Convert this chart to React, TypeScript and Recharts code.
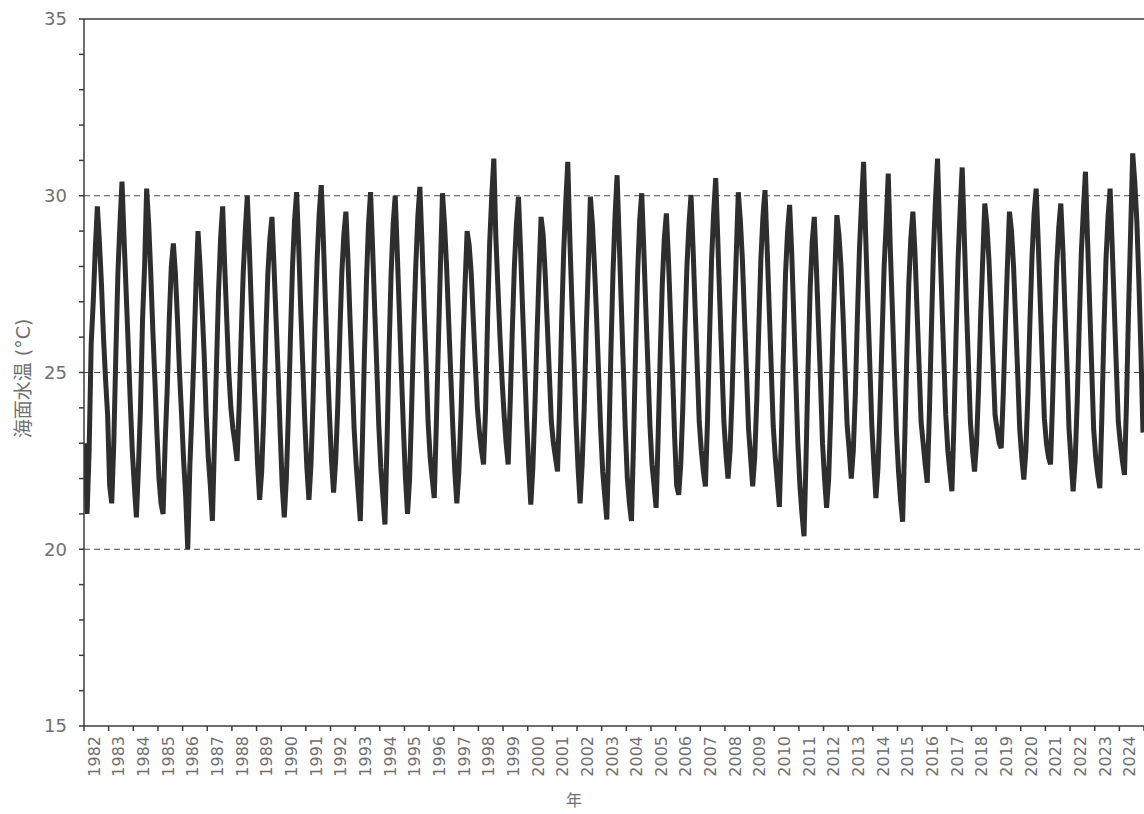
import React from 'react';
import { LineChart, Line, XAxis, YAxis, ReferenceLine } from 'recharts';

// Monthly sea surface temperature (°C), Jan..Dec
const sst1980s: number[][] = [
  [23.0, 21.0, 22.8, 25.8, 27.0, 28.5, 29.7, 28.7, 27.5, 26.0, 24.8, 23.8], // 1982
  [21.8, 21.3, 23.0, 25.5, 27.8, 29.2, 30.4, 28.8, 27.3, 25.8, 24.2, 22.8], // 1983
  [21.8, 20.9, 22.3, 24.0, 26.5, 28.0, 30.2, 29.2, 27.8, 26.2, 24.8, 23.3], // 1984
  [22.0, 21.3, 21.0, 23.0, 24.5, 26.5, 28.0, 28.65, 27.8, 26.5, 25.0, 23.8], // 1985
  [22.5, 21.5, 20.0, 22.3, 23.8, 25.5, 27.5, 29.0, 28.0, 26.8, 25.5, 23.8], // 1986
  [22.6, 21.8, 20.8, 23.0, 25.2, 27.3, 28.8, 29.7, 28.0, 26.5, 25.0, 24.0], // 1987
  [23.4, 23.0, 22.5, 24.0, 26.0, 27.8, 29.0, 30.0, 28.5, 26.8, 25.2, 23.8], // 1988
  [22.4, 21.4, 22.2, 23.8, 26.0, 27.8, 28.8, 29.4, 28.0, 26.5, 25.0, 23.3], // 1989
];
const sst1990s: number[][] = [
  [21.8, 20.9, 22.0, 23.8, 26.0, 28.0, 29.3, 30.1, 28.6, 26.8, 25.2, 23.6], // 1990
  [22.3, 21.4, 22.4, 24.2, 26.4, 28.2, 29.5, 30.3, 28.8, 27.0, 25.3, 23.8], // 1991
  [22.5, 21.6, 22.5, 24.0, 26.0, 27.8, 28.9, 29.55, 28.2, 26.5, 25.0, 23.4], // 1992
  [22.4, 21.6, 20.8, 23.0, 25.5, 27.6, 29.2, 30.1, 28.5, 26.8, 25.2, 23.5], // 1993
  [22.3, 21.5, 20.7, 23.0, 25.6, 27.8, 29.2, 30.0, 28.4, 26.7, 25.0, 23.4], // 1994
  [22.0, 21.0, 22.0, 24.0, 26.2, 28.0, 29.4, 30.25, 28.7, 26.9, 25.3, 23.6], // 1995
  [22.6, 22.0, 21.45, 23.5, 25.8, 28.0, 30.07, 29.2, 28.0, 26.5, 25.0, 23.5], // 1996
  [22.2, 21.3, 22.2, 23.8, 25.8, 27.5, 29.0, 28.6, 27.8, 26.5, 25.2, 24.0], // 1997
  [23.3, 22.8, 22.4, 24.0, 26.6, 28.7, 30.0, 31.05, 28.8, 27.4, 26.0, 24.8], // 1998
  [23.8, 23.0, 22.4, 24.2, 26.2, 28.0, 29.2, 29.97, 28.5, 26.8, 25.2, 23.6], // 1999
];
const sst2000s: number[][] = [
  [22.3, 21.26, 22.3, 24.0, 26.0, 27.8, 29.4, 28.9, 27.8, 26.4, 25.0, 23.6], // 2000
  [23.0, 22.6, 22.2, 24.0, 26.4, 28.4, 29.8, 30.96, 28.8, 27.0, 25.4, 23.6], // 2001
  [22.3, 21.3, 22.4, 24.0, 26.2, 28.0, 29.97, 29.2, 28.0, 26.6, 25.0, 23.4], // 2002
  [22.2, 21.5, 20.84, 23.0, 25.6, 27.8, 29.4, 30.58, 28.8, 27.0, 25.2, 23.4], // 2003
  [22.0, 21.3, 20.8, 23.0, 25.6, 27.8, 29.3, 30.07, 28.5, 26.8, 25.2, 23.5], // 2004
  [22.4, 21.8, 21.17, 23.2, 25.5, 27.5, 28.8, 29.5, 28.2, 26.6, 25.0, 23.2], // 2005
  [21.8, 21.54, 22.4, 24.0, 26.2, 28.0, 29.2, 30.02, 28.5, 26.8, 25.2, 23.6], // 2006
  [22.8, 22.2, 21.78, 23.6, 26.0, 28.2, 29.5, 30.5, 28.8, 27.0, 25.3, 23.6], // 2007
  [22.7, 22.0, 22.8, 24.4, 26.5, 28.3, 30.1, 29.3, 28.2, 26.6, 25.0, 23.4], // 2008
  [22.6, 21.78, 22.6, 24.2, 26.3, 28.2, 29.4, 30.16, 28.6, 26.9, 25.2, 23.5], // 2009
];
const sst2010s: number[][] = [
  [22.6, 21.9, 21.2, 23.2, 25.6, 27.8, 29.0, 29.74, 28.4, 26.6, 24.8, 23.0], // 2010
  [21.8, 21.0, 20.37, 22.6, 25.2, 27.4, 28.7, 29.4, 28.0, 26.4, 24.8, 23.0], // 2011
  [22.0, 21.17, 22.0, 23.8, 26.0, 27.8, 29.45, 28.9, 28.0, 26.6, 25.0, 23.5], // 2012
  [22.8, 22.0, 22.8, 24.4, 26.6, 28.5, 29.8, 30.96, 28.9, 27.0, 25.3, 23.5], // 2013
  [22.4, 21.45, 22.3, 24.0, 26.0, 28.0, 29.2, 30.63, 28.5, 26.8, 25.0, 23.3], // 2014
  [22.2, 21.4, 20.78, 23.0, 25.4, 27.5, 28.8, 29.55, 28.4, 26.8, 25.2, 23.6], // 2015
  [23.0, 22.4, 21.88, 23.8, 26.2, 28.4, 29.9, 31.05, 29.0, 27.2, 25.5, 23.8], // 2016
  [22.8, 22.2, 21.64, 23.6, 26.0, 28.2, 29.6, 30.8, 28.9, 27.0, 25.3, 23.6], // 2017
  [22.8, 22.2, 23.0, 24.6, 26.6, 28.2, 29.78, 29.2, 28.2, 26.8, 25.3, 23.8], // 2018
  [23.4, 23.0, 22.86, 24.4, 26.3, 28.0, 29.55, 29.0, 28.0, 26.5, 25.0, 23.4], // 2019
];
const sst2020s: number[][] = [
  [22.6, 21.97, 22.8, 24.4, 26.5, 28.3, 29.5, 30.2, 28.7, 27.0, 25.3, 23.7], // 2020
  [23.0, 22.6, 22.4, 24.2, 26.3, 28.0, 29.1, 29.78, 28.5, 26.8, 25.2, 23.4], // 2021
  [22.5, 21.64, 22.5, 24.2, 26.4, 28.4, 29.6, 30.68, 28.8, 27.0, 25.2, 23.4], // 2022
  [22.6, 22.1, 21.73, 23.8, 26.2, 28.2, 29.4, 30.2, 28.6, 26.9, 25.2, 23.6], // 2023
  [23.0, 22.5, 22.1, 24.2, 26.8, 29.0, 31.2, 30.4, 29.3, 27.6, 25.6, 23.3], // 2024
];

const firstYear = 1982;
const lastYear = 2024;
// tick marks at each year boundary, labels centred in each year
const yearTicks: number[] = [];
for (let y = firstYear; y <= lastYear + 1; y++) yearTicks.push(y);
const yearLabelTicks: number[] = yearTicks.slice(0, -1).map((y) => y + 0.5);
const xTicks: number[] = [...yearTicks, ...yearLabelTicks].sort((a, b) => a - b);
const tempTicks: number[] = [];
for (let t = 15; t <= 35; t++) tempTicks.push(t);
const gridValues = [20, 25, 30];

const allYears = [...sst1980s, ...sst1990s, ...sst2000s, ...sst2010s, ...sst2020s];
const data = allYears.flatMap((months, yi) =>
  months.map((v, mi) => ({ t: firstYear + yi + (mi + 0.5) / 12, v }))
);

const NUM_FONT = "'DejaVu Sans', 'Noto Sans CJK JP', sans-serif";
const TEXT_COLOR = '#707070';
const AXIS_COLOR = '#3c3c3c';

const YearTick = (props: any) => {
  const { x, y, payload } = props;
  const v = payload.value as number;
  if (Number.isInteger(v)) {
    return <line x1={x} x2={x} y1={y} y2={y + 5} stroke={AXIS_COLOR} strokeWidth={1.5} />;
  }
  const px = x - 2;
  const py = y + 10;
  return (
    <text
      x={px}
      y={py}
      transform={`rotate(-90 ${px} ${py})`}
      textAnchor="end"
      dominantBaseline="central"
      fontFamily={NUM_FONT}
      fontSize={16}
      fill={TEXT_COLOR}
    >
      {Math.floor(v)}
    </text>
  );
};

export default function App() {
  return (
    <div style={{ position: 'absolute', left: 0, top: 0, background: '#fff' }}>
      <LineChart width={1144} height={814} data={data} margin={{ top: 19, right: 0, bottom: 0, left: 0 }}>
        <XAxis
          dataKey="t"
          type="number"
          domain={[firstYear, lastYear + 1]}
          ticks={xTicks}
          interval={0}
          tickLine={false}
          tickSize={0}
          tickMargin={0}
          height={88}
          tick={<YearTick />}
          stroke={AXIS_COLOR}
          strokeWidth={1.5}
          allowDataOverflow
          label={{
            content: (p: any) => {
              const vb = p.viewBox;
              const cx = vb.x + vb.width / 2 - 40;
              const cy = vb.y + vb.height - 8;
              return (
                <text x={cx} y={cy} textAnchor="middle" fontFamily={NUM_FONT} fontSize={16} fill={TEXT_COLOR}>
                  年
                </text>
              );
            },
          }}
        />
        <YAxis
          type="number"
          domain={[15, 35]}
          ticks={tempTicks}
          interval={0}
          width={84}
          tickSize={5}
          tickMargin={12}
          tickFormatter={(v: number) => (v % 5 === 0 ? String(v) : '')}
          tick={{ fontSize: 18, fill: TEXT_COLOR, fontFamily: NUM_FONT }}
          stroke={AXIS_COLOR}
          strokeWidth={1.5}
          allowDataOverflow
          label={{
            content: (p: any) => {
              const vb = p.viewBox;
              const cx = vb.x + 23;
              const cy = vb.y + vb.height / 2 + 6;
              return (
                <text
                  x={cx}
                  y={cy}
                  transform={`rotate(-90 ${cx} ${cy})`}
                  textAnchor="middle"
                  dominantBaseline="central"
                  fontFamily={NUM_FONT}
                  fontSize={19}
                  fill={TEXT_COLOR}
                >
                  海面水温 (°C)
                </text>
              );
            },
          }}
        />
        {gridValues.map((g) => (
          <ReferenceLine key={g} y={g} stroke="#4a4a4a" strokeWidth={1.2} strokeDasharray="6 4" />
        ))}
        <ReferenceLine y={35} stroke={AXIS_COLOR} strokeWidth={1.5} />
        <Line
          dataKey="v"
          type="linear"
          stroke="#2e2e2e"
          strokeWidth={5}
          dot={false}
          isAnimationActive={false}
        />
      </LineChart>
    </div>
  );
}
